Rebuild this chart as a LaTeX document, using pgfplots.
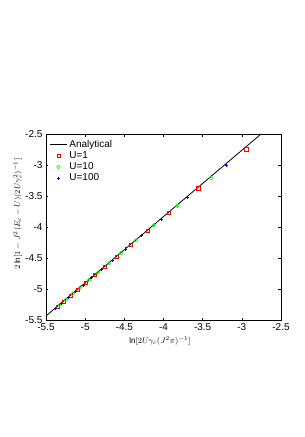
\documentclass[border=0pt]{standalone}
\usepackage{fontspec}
\setmainfont{Liberation Sans}
\usepackage{pgfplots}
\pgfplotsset{compat=1.18}
\begin{document}
\begin{tikzpicture}
\useasboundingbox (-46pt,-117pt) rectangle (259pt,320pt);
\begin{axis}[
  at={(0,0)}, anchor=south west,
  width=235pt, height=186pt, scale only axis,
  xmin=-5.5, xmax=-2.5, ymin=-5.5, ymax=-2.5,
  xtick={-5.5,-5,-4.5,-4,-3.5,-3,-2.5},
  xticklabels={{-5.5},{-5},{-4.5},{-4},{-3.5},{-3},{-2.5}},
  ytick={-5.5,-5,-4.5,-4,-3.5,-3,-2.5},
  yticklabels={{-5.5},{-5},{-4.5},{-4},{-3.5},{-3},{-2.5}},
  tick label style={font=\fontsize{10}{12}\selectfont},
  major tick length=2.5pt,
  axis line style={line width=0.5pt},
  tick style={line width=0.5pt, black},
  xlabel={$\ln[2U\gamma_c(J^2\pi)^{-1}]$},
  ylabel={$2\ln[1-J^2(E_c-U)(2U\gamma_c^2)^{-1}]$},
  label style={font=\footnotesize},
  xlabel style={at={(axis description cs:0.485,0)}, anchor=center, yshift=-21pt},
  ylabel style={at={(axis description cs:-0.12,0.57)}, anchor=center},
  legend style={draw=none, fill=none, at={(axis description cs:0.01,0.985)}, anchor=north west,
    font=\fontsize{10}{12}\selectfont, row sep=-1.2pt, inner sep=1pt},
  legend cell align=left,
  clip=false,
]
\addplot[black, line width=0.8pt] coordinates {(-5.5,-5.435) (-2.754,-2.5)};
\addlegendentry{Analytical}
\addplot[only marks, mark=square, mark size=1.6pt, red, mark options={line width=0.6pt}] coordinates {
(-2.944,-2.748) (-3.555,-3.376) (-3.932,-3.769) (-4.205,-4.061) (-4.419,-4.289)
(-4.595,-4.478) (-4.745,-4.638) (-4.875,-4.777) (-4.990,-4.900) (-5.094,-5.011)
(-5.187,-5.110) (-5.273,-5.202) (-5.352,-5.287)};
\addlegendentry{U=1}
\addplot[only marks, mark=o, mark size=1.8pt, green, mark options={line width=0.6pt}] coordinates {
(-3.390,-3.209) (-3.821,-3.660) (-4.122,-3.972) (-4.352,-4.218) (-4.540,-4.419)
(-4.697,-4.587) (-4.834,-4.733) (-4.953,-4.860) (-5.060,-4.975) (-5.157,-5.078)
(-5.245,-5.172) (-5.326,-5.259)};
\addlegendentry{U=10}
\addplot[only marks, mark=+, mark size=1.6pt, blue, mark options={line width=0.7pt}] coordinates {
(-3.192,-3.003) (-3.697,-3.528) (-4.031,-3.875) (-4.281,-4.142) (-4.481,-4.356)
(-4.648,-4.534) (-4.790,-4.686) (-4.915,-4.820) (-5.026,-4.938) (-5.126,-5.045)
(-5.217,-5.142) (-5.300,-5.231) (-5.377,-5.314)};
\addlegendentry{U=100}
\end{axis}
\end{tikzpicture}
\end{document}
